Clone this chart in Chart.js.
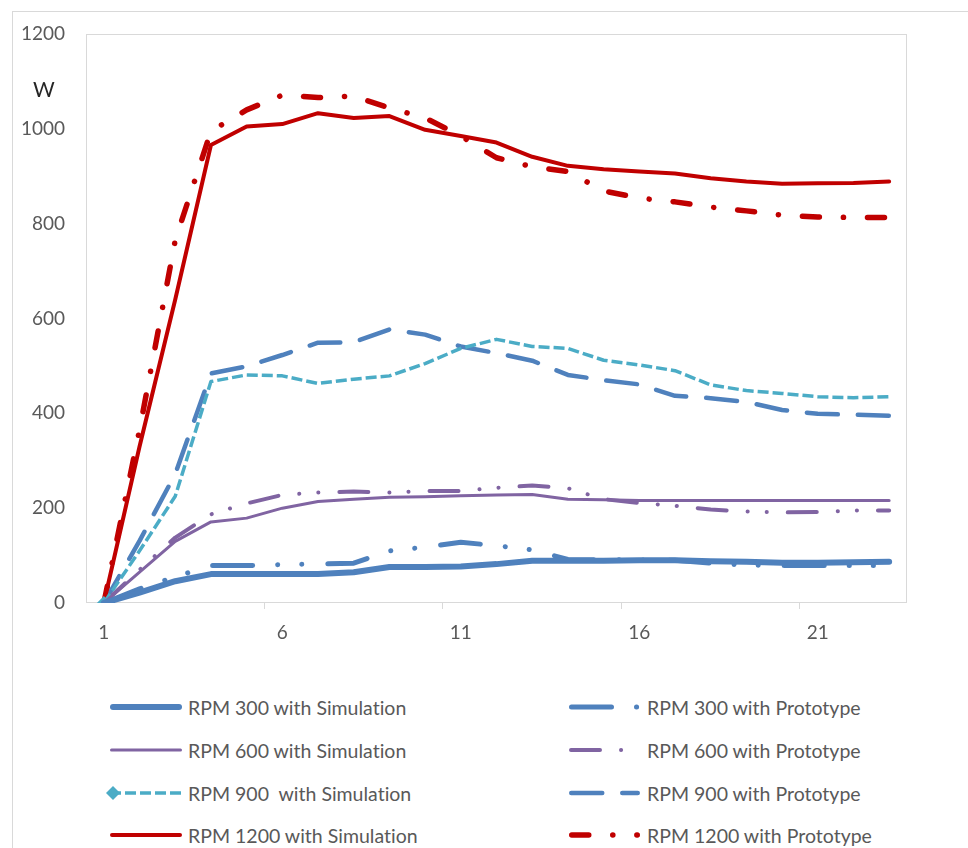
<!DOCTYPE html>
<html><head><meta charset="utf-8">
<script src="https://cdn.jsdelivr.net/npm/chart.js@4/dist/chart.umd.min.js"></script>
<style>
html,body{margin:0;padding:0;background:#fff;width:968px;height:848px;overflow:hidden;font-family:Lato,sans-serif;}
#frame{position:absolute;left:12px;top:11px;width:1100px;height:1000px;border:1px solid #d9d9d9;box-sizing:border-box;}
#chart{position:absolute;left:0;top:0;}
#wlabel{position:absolute;left:33px;top:76px;font-size:21px;color:#262626;}
.leg{position:absolute;height:24px;display:flex;align-items:center;font-size:19.5px;color:#595959;white-space:pre;font-variant-ligatures:none;font-feature-settings:"liga" 0, "clig" 0;}
.leg svg{display:block;flex:none;}
</style></head><body>
<div id="frame"></div>
<canvas id="chart" width="968" height="660"></canvas>
<div id="wlabel">W</div>
<div id="legend"></div>
<script>
// ---- data ----
const categories = ['1','2','3','4','5','6','7','8','9','10','11','12','13','14','15','16','17','18','19','20','21','22','23'];
const yTicks = [0, 200, 400, 600, 800, 1000, 1200];
const seriesNames = [
  'RPM 300 with Simulation', 'RPM 600 with Simulation', 'RPM 900  with Simulation', 'RPM 1200 with Simulation',
  'RPM 300 with Prototype', 'RPM 600 with Prototype', 'RPM 900 with Prototype', 'RPM 1200 with Prototype'
];
const rpm300Sim   = [0, 22, 46, 61, 61, 61, 61, 65, 76, 76, 77, 82, 89, 89, 89, 90, 90, 88, 87, 85, 85, 86, 87];
const rpm600Sim   = [0, 65, 130, 171, 179, 200, 214, 219, 223, 224, 226, 228, 229, 219, 218, 216, 216, 216, 216, 216, 216, 216, 216];
const rpm900Sim   = [0, 110, 225, 467, 481, 479, 463, 472, 479, 505, 537, 556, 541, 537, 512, 502, 490, 460, 448, 442, 435, 433, 435];
const rpm1200Sim  = [0, 330, 640, 966, 1005, 1010, 1033, 1023, 1027, 998, 985, 971, 941, 922, 915, 910, 906, 896, 889, 884, 885, 886, 889];
const rpm300Proto = [0, 30, 55, 79, 79, 81, 82, 84, 110, 118, 128, 121, 112, 92, 91, 91, 90, 84, 80, 79, 79, 79, 79];
const rpm600Proto = [0, 70, 138, 187, 210, 228, 233, 235, 233, 236, 236, 243, 248, 242, 219, 211, 205, 197, 193, 191, 192, 195, 195];
const rpm900Proto = [0, 131, 272, 484, 499, 523, 549, 550, 577, 566, 541, 527, 511, 481, 470, 461, 437, 432, 424, 407, 399, 397, 395];
const rpm1200Proto= [0, 365, 765, 995, 1040, 1071, 1066, 1069, 1044, 1023, 985, 939, 920, 910, 869, 854, 846, 835, 827, 818, 814, 813, 813];

// ---- styles ----
const BLUE = '#4f81bd', PURPLE = '#8064a2', CYAN = '#4bacc6', RED = '#c00000';
const styles = [
  {color: BLUE,   width: 6,   dash: [],                       cap: 'round'},
  {color: PURPLE, width: 3,   dash: [],                       cap: 'round'},
  {color: CYAN,   width: 3.5, dash: [11, 4],                  cap: 'butt', marker: true},
  {color: RED,    width: 4,   dash: [],                       cap: 'round'},
  {color: BLUE,   width: 5,   dash: [40, 25, 0.1, 24, 0.1, 26], cap: 'round'},
  {color: PURPLE, width: 4,   dash: [29, 21, 0.1, 19, 0.1, 21], cap: 'round'},
  {color: BLUE,   width: 4.5, dash: [31, 20],                 cap: 'round'},
  {color: RED,    width: 5.5, dash: [17, 24, 0.1, 24],        cap: 'round'}
];
const seriesData = [rpm300Sim, rpm600Sim, rpm900Sim, rpm1200Sim, rpm300Proto, rpm600Proto, rpm900Proto, rpm1200Proto];

const datasets = seriesData.map((d, i) => ({
  label: seriesNames[i],
  data: d,
  borderColor: styles[i].color,
  backgroundColor: styles[i].color,
  borderWidth: styles[i].width,
  borderDash: styles[i].dash,
  borderCapStyle: styles[i].cap,
  borderJoinStyle: 'round',
  tension: 0,
  fill: false,
  pointStyle: 'rectRot',
  pointRadius: styles[i].marker ? (ctx => ctx.dataIndex === 0 ? 7 : 0) : 0,
  pointBorderWidth: 0,
  pointHoverRadius: 0
}));

const plotBorder = {
  id: 'plotBorder',
  beforeDatasetsDraw(chart) {
    const a = chart.chartArea, c = chart.ctx;
    c.save();
    c.strokeStyle = '#d9d9d9';
    c.lineWidth = 1;
    c.strokeRect(Math.round(a.left) + 0.5, Math.round(a.top) + 0.5, Math.round(a.right - a.left) - 1, Math.round(a.bottom - a.top) - 1);
    c.restore();
  }
};

Chart.defaults.font.family = 'Lato, sans-serif';
Chart.defaults.font.size = 19;
Chart.defaults.color = '#595959';

new Chart(document.getElementById('chart'), {
  type: 'line',
  data: {labels: categories, datasets},
  options: {
    responsive: false,
    animation: false,
    devicePixelRatio: 1,
    layout: {padding: {left: 0, right: 61, top: 34, bottom: 0}},
    plugins: {legend: {display: false}, tooltip: {enabled: false}},
    scales: {
      x: {
        type: 'category',
        offset: true,
        grid: {
          offset: true, drawOnChartArea: false, drawTicks: true, tickLength: 6, lineWidth: 1,
          color: ctx => [5, 10, 15, 20].includes(ctx.index) ? '#d9d9d9' : 'rgba(0,0,0,0)'
        },
        border: {display: false},
        ticks: {
          autoSkip: false, maxRotation: 0, padding: 12, color: '#595959',
          callback: (v, i) => i % 5 === 0 ? categories[i] : ''
        },
        afterFit: s => { s.height = 57; }
      },
      y: {
        min: yTicks[0], max: yTicks[yTicks.length - 1],
        grid: {display: false, drawTicks: false},
        border: {display: false},
        afterBuildTicks: s => { s.ticks = yTicks.map(v => ({value: v})); },
        ticks: {padding: 21, color: '#595959', callback: v => String(v)},
        afterFit: s => { s.width = 86; }
      }
    }
  },
  plugins: [plotBorder]
});

// ---- HTML legend ----
const legendCols = [{lineX: 110, textX: 188, len: 72}, {lineX: 569, textX: 647, len: 71}];
const legendRows = [707, 750, 793, 835];
const legend = document.getElementById('legend');
seriesNames.forEach((name, i) => {
  const col = legendCols[Math.floor(i / 4)], rowY = legendRows[i % 4], st = styles[i];
  const div = document.createElement('div');
  div.className = 'leg';
  div.style.left = (col.lineX - 6) + 'px';
  div.style.top = (rowY - 12) + 'px';
  const w = col.textX - col.lineX + 6;
  const ns = 'http://www.w3.org/2000/svg';
  const svg = document.createElementNS(ns, 'svg');
  svg.setAttribute('width', w); svg.setAttribute('height', 24);
  const line = document.createElementNS(ns, 'line');
  const half = st.cap === 'round' ? st.width / 2 : 0;
  line.setAttribute('x1', 6 + half); line.setAttribute('x2', 6 + col.len - half);
  line.setAttribute('y1', 12); line.setAttribute('y2', 12);
  line.setAttribute('stroke', st.color); line.setAttribute('stroke-width', st.width);
  line.setAttribute('stroke-linecap', st.cap);
  if (st.dash.length) line.setAttribute('stroke-dasharray', st.dash.join(' '));
  svg.appendChild(line);
  if (st.marker) {
    const p = document.createElementNS(ns, 'polygon');
    const cx = 9, cy = 12, r = 7;
    p.setAttribute('points', `${cx},${cy - r} ${cx + r},${cy} ${cx},${cy + r} ${cx - r},${cy}`);
    p.setAttribute('fill', st.color);
    svg.appendChild(p);
  }
  div.appendChild(svg);
  const span = document.createElement('span');
  span.textContent = name;
  div.appendChild(span);
  legend.appendChild(div);
});
</script>
</body></html>
